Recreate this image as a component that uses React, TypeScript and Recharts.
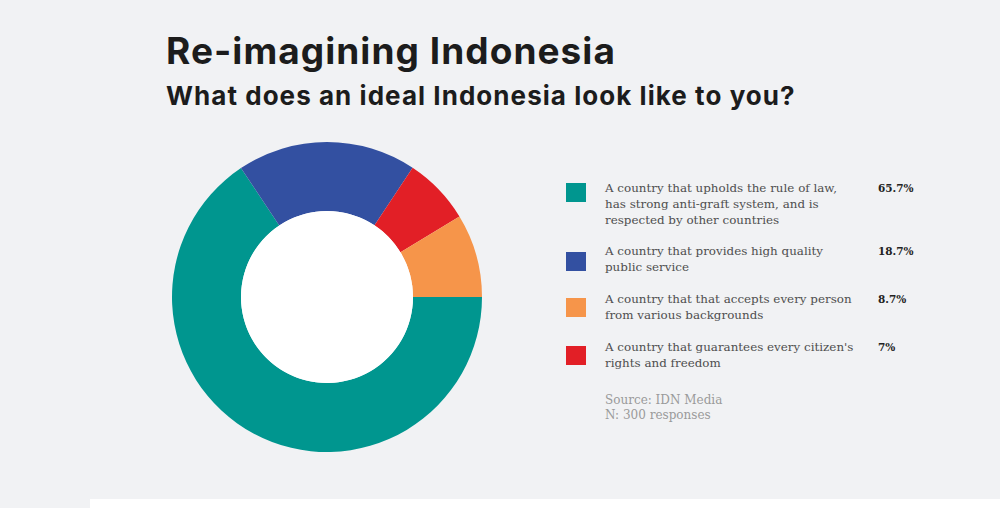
import React from "react";
import { PieChart, Pie, Cell, Legend } from "recharts";

// answers, legend order
const answers = [
  "A country that upholds the rule of law, has strong anti-graft system, and is respected by other countries",
  "A country that provides high quality public service",
  "A country that that accepts every person from various backgrounds",
  "A country that guarantees every citizen's rights and freedom",
];
const answerLines = [
  ["A country that upholds the rule of law,", "has strong anti-graft system, and is", "respected by other countries"],
  ["A country that provides high quality", "public service"],
  ["A country that that accepts every person", "from various backgrounds"],
  ["A country that guarantees every citizen's", "rights and freedom"],
];
const shares = [65.7, 18.7, 8.7, 7];
const shareLabels = ["65.7%", "18.7%", "8.7%", "7%"];
const colors = ["#00968f", "#3350a1", "#f6954a", "#e21f26"];
// order slices appear clockwise from 3 o'clock
const sliceOrder = [0, 1, 3, 2];

const BG = "#f1f2f4";
const SERIF = "'DejaVu Serif', 'Liberation Serif', serif";

const pieData = sliceOrder.map((i) => ({
  name: answers[i],
  value: shares[i],
  color: colors[i],
}));

const legendPayload = answers.map((a, i) => ({
  value: a,
  color: colors[i],
  idx: i,
}));

const LegendBlock = () => (
  <div style={{ fontFamily: SERIF, width: 400, textAlign: "left" }}>
    {legendPayload.map((p, i) => (
      <div
        key={p.value}
        style={{ position: "relative", height: i === 0 ? 63 : 48 }}
      >
        <div
          style={{
            position: "absolute",
            left: 0,
            top: [3, 9, 7, 7][i],
            width: 20,
            height: 19,
            background: p.color,
          }}
        />
        <div
          style={{
            position: "absolute",
            left: 39,
            top: 0,
            fontSize: 11.9,
            lineHeight: "16px",
            color: "#4e4e4e",
          }}
        >
          {answerLines[i].map((l) => (
            <div key={l} style={{ whiteSpace: "nowrap" }}>
              {l}
            </div>
          ))}
        </div>
        <div
          style={{
            position: "absolute",
            left: 312,
            top: 0,
            fontSize: 10.5,
            lineHeight: "16px",
            fontWeight: 700,
            color: "#222",
          }}
        >
          {shareLabels[i]}
        </div>
      </div>
    ))}
    <div
      style={{
        marginTop: 6,
        paddingLeft: 39,
        fontSize: 12,
        lineHeight: "15px",
        color: "#9a9a9a",
      }}
    >
      <div>Source: IDN Media</div>
      <div>N: 300 responses</div>
    </div>
  </div>
);

export default function App() {
  return (
    <div
      style={{
        position: "absolute",
        left: 0,
        top: 0,
        width: 1000,
        height: 508,
        background: BG,
        overflow: "hidden",
      }}
    >
      <div
        style={{
          position: "absolute",
          left: 166,
          top: 28,
          fontFamily: "Inter, sans-serif",
          fontWeight: 700,
          fontSize: 37,
          color: "#1c1c1c",
          letterSpacing: 1.05,
          whiteSpace: "nowrap",
        }}
      >
        Re-imagining Indonesia
      </div>
      <div
        style={{
          position: "absolute",
          left: 166,
          top: 80,
          fontFamily: "Inter, sans-serif",
          fontWeight: 700,
          fontSize: 26,
          color: "#1c1c1c",
          letterSpacing: 1.05,
          whiteSpace: "nowrap",
        }}
      >
        What does an ideal Indonesia look like to you?
      </div>
      <PieChart width={1000} height={508} style={{ position: "absolute", left: 0, top: 0 }}>
        <Pie
          data={pieData}
          dataKey="value"
          nameKey="name"
          cx={322}
          cy={292}
          innerRadius={86}
          outerRadius={155}
          startAngle={0}
          endAngle={-360}
          stroke="none"
          isAnimationActive={false}
        >
          {pieData.map((d) => (
            <Cell key={d.name} fill={d.color} />
          ))}
        </Pie>
        <Pie
          data={[{ name: "hole", value: 1 }]}
          dataKey="value"
          cx={322}
          cy={292}
          innerRadius={0}
          outerRadius={86}
          fill="#ffffff"
          stroke="none"
          isAnimationActive={false}
        />
        <Legend
          layout="horizontal"
          verticalAlign="middle"
          align="center"
          wrapperStyle={{ position: "absolute", left: 566, top: 180, width: 400 }}
          content={() => <LegendBlock />}
        />
      </PieChart>
      <div
        style={{
          position: "absolute",
          left: 90,
          top: 499,
          width: 910,
          height: 9,
          background: "#ffffff",
        }}
      />
    </div>
  );
}
